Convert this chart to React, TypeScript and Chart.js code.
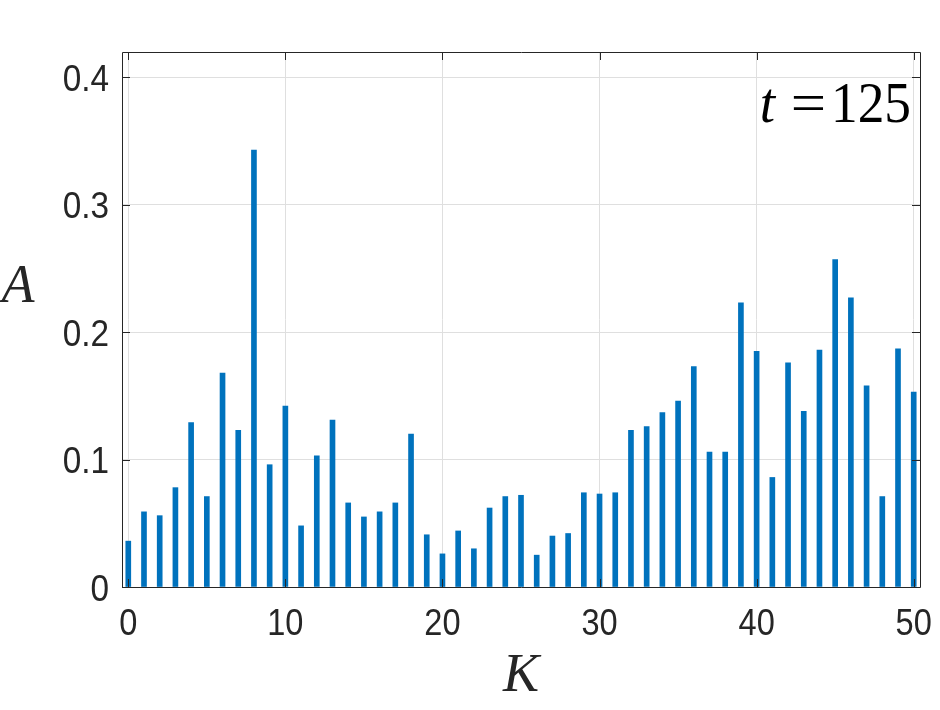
import React, { useEffect, useRef } from 'react';
import { Chart, registerables } from 'chart.js';

Chart.register(...registerables);

// ---- data ----
const kValues: number[] = [
  0, 1, 2, 3, 4, 5, 6, 7, 8, 9, 10, 11, 12, 13, 14, 15, 16, 17, 18, 19, 20,
  21, 22, 23, 24, 25, 26, 27, 28, 29, 30, 31, 32, 33, 34, 35, 36, 37, 38, 39, 40,
  41, 42, 43, 44, 45, 46, 47, 48, 49, 50,
];
const aValues: number[] = [
  0.036, 0.059, 0.056, 0.078, 0.129, 0.071, 0.168, 0.123, 0.343, 0.096, 0.142,
  0.048, 0.103, 0.131, 0.066, 0.055, 0.059, 0.066, 0.120, 0.041, 0.026,
  0.044, 0.030, 0.062, 0.071, 0.072, 0.025, 0.040, 0.042, 0.074, 0.073,
  0.074, 0.123, 0.126, 0.137, 0.146, 0.173, 0.106, 0.106, 0.223, 0.185,
  0.086, 0.176, 0.138, 0.186, 0.257, 0.227, 0.158, 0.071, 0.187, 0.153,
];
const xTickValues: number[] = [0, 10, 20, 30, 40, 50];
const yTickValues: number[] = [0, 0.1, 0.2, 0.3, 0.4];
const xTickLabels: string[] = ['0', '10', '20', '30', '40', '50'];
const yTickLabels: string[] = ['0', '0.1', '0.2', '0.3', '0.4'];
const xAxisTitle = 'K';
const yAxisTitle = 'A';
const annotationVar = 't';
const annotationEq = '=';
const annotationNum = '125';

const AXIS_COLOR = '#262626';
const BAR_COLOR = '#0072BD';
const GRID_COLOR = '#dfdfdf';
const TICK_FONT = "'Liberation Sans', Arial, sans-serif";
const SERIF = "'Liberation Serif', 'DejaVu Serif', serif";

function drawNarrow(ctx: CanvasRenderingContext2D, text: string, x: number, y: number, sx: number) {
  ctx.save();
  ctx.translate(x, y);
  ctx.scale(sx, 1);
  ctx.fillText(text, 0, 0);
  ctx.restore();
}

const framePlugin = {
  id: 'frame',
  afterDraw(chart: any) {
    const { ctx, chartArea } = chart;
    const { left, right, top, bottom } = chartArea;
    const xs = chart.scales.x;
    const ys = chart.scales.y;
    ctx.save();
    ctx.strokeStyle = AXIS_COLOR;
    ctx.lineWidth = 1;
    ctx.beginPath();
    ctx.rect(Math.round(left) + 0.5, Math.round(top) + 0.5, Math.round(right - left), Math.round(bottom - top));
    ctx.stroke();
    const tl = 8;
    ctx.beginPath();
    for (const v of xTickValues) {
      const px = Math.round(xs.getPixelForValue(v)) + 0.5;
      ctx.moveTo(px, bottom);
      ctx.lineTo(px, bottom - tl);
      ctx.moveTo(px, top);
      ctx.lineTo(px, top + tl);
    }
    for (const v of yTickValues) {
      const py = Math.round(ys.getPixelForValue(v)) + 0.5;
      ctx.moveTo(left, py);
      ctx.lineTo(left + tl, py);
      ctx.moveTo(right, py);
      ctx.lineTo(right - tl, py);
    }
    ctx.stroke();

    // tick labels (Helvetica-like, slightly condensed)
    ctx.fillStyle = AXIS_COLOR;
    ctx.textBaseline = 'alphabetic';
    ctx.font = `37px ${TICK_FONT}`;
    ctx.textAlign = 'center';
    xTickValues.forEach((v, i) => {
      drawNarrow(ctx, xTickLabels[i], xs.getPixelForValue(v), bottom + 48, 0.88);
    });
    ctx.textAlign = 'right';
    yTickValues.forEach((v, i) => {
      drawNarrow(ctx, yTickLabels[i], left - 13, ys.getPixelForValue(v) + 13.5, 0.9);
    });

    // axis titles
    ctx.textAlign = 'center';
    ctx.font = `italic 54px ${SERIF}`;
    ctx.fillText(xAxisTitle, (left + right) / 2, 691);
    ctx.fillText(yAxisTitle, 18, 302);

    // annotation "t =125"
    ctx.fillStyle = '#000';
    ctx.textAlign = 'right';
    const baseY = top + 70;
    ctx.font = `58px ${SERIF}`;
    drawNarrow(ctx, annotationNum, right - 9, baseY, 0.92);
    drawNarrow(ctx, annotationEq, right - 94, baseY, 1.08);
    ctx.font = `italic 58px ${SERIF}`;
    drawNarrow(ctx, annotationVar, right - 145, baseY, 0.95);
    ctx.restore();
  },
};

export default function App() {
  const ref = useRef<HTMLCanvasElement>(null);
  useEffect(() => {
    if (!ref.current) return;
    const chart = new Chart(ref.current, {
      type: 'bar',
      data: {
        datasets: [
          {
            data: kValues.map((k, i) => ({ x: k, y: aValues[i] })),
            backgroundColor: BAR_COLOR,
            borderWidth: 0,
            barThickness: 5,
          },
        ],
      },
      options: {
        responsive: false,
        animation: false,
        events: [],
        layout: { padding: { left: 0, right: 20, top: 52, bottom: 0 } },
        plugins: {
          legend: { display: false },
          tooltip: { enabled: false },
        },
        scales: {
          x: {
            type: 'linear',
            min: -0.4,
            max: 50.4,
            offset: false,
            afterBuildTicks: (s: any) => {
              s.ticks = xTickValues.map((v) => ({ value: v }));
            },
            afterFit: (s: any) => {
              s.height = 123;
              s.paddingLeft = 0;
              s.paddingRight = 0;
            },
            ticks: { display: false },
            grid: { color: GRID_COLOR, drawTicks: false, offset: false },
            border: { display: false },
          },
          y: {
            type: 'linear',
            min: 0,
            max: 0.42,
            afterBuildTicks: (s: any) => {
              s.ticks = yTickValues.map((v) => ({ value: v }));
            },
            afterFit: (s: any) => {
              s.width = 122;
              s.paddingTop = 0;
              s.paddingBottom = 0;
            },
            ticks: { display: false },
            grid: { color: GRID_COLOR, drawTicks: false },
            border: { display: false },
          },
        },
      },
      plugins: [framePlugin],
    } as any);
    return () => chart.destroy();
  }, []);
  return (
    <div style={{ position: 'fixed', left: 0, top: 0, width: 940, height: 710, background: '#fff' }}>
      <canvas ref={ref} width={940} height={710} style={{ display: 'block', width: 940, height: 710 }} />
    </div>
  );
}
